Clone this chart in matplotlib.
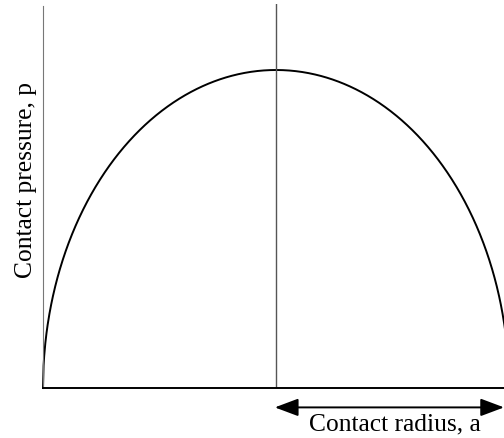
import matplotlib.pyplot as plt
import numpy as np

plt.rcParams["font.family"] = ["Liberation Serif", "DejaVu Serif"]

# normalised Hertz contact: p/p0 = sqrt(1 - (r/a)^2)
r = np.linspace(-1, 1, 801)
p = np.sqrt(np.clip(1 - r**2, 0, None))

x_label = "Contact radius, a"
y_label = "Contact pressure, p"

fig = plt.figure(figsize=(5.04, 4.39), dpi=100)
ax = fig.add_axes([43 / 504, 50 / 439, 461 / 504, 384 / 439])

ax.plot(r, p, color="black", lw=1.4, clip_on=False)
ax.axvline(0, color="#555555", lw=1.0)

ax.set_xlim(-1, 228 / 233)
ax.set_ylim(0, 384 / 318)
ax.set_xticks([])
ax.set_yticks([])
ax.spines["top"].set_visible(False)
ax.spines["right"].set_visible(False)
ax.spines["left"].set_color("#777777")
ax.spines["left"].set_bounds(0, 382 / 318)
ax.spines["bottom"].set_linewidth(1.4)

ax.annotate("", xy=(-0.005, -0.061), xytext=(228 / 233, -0.061),
            arrowprops=dict(arrowstyle="<|-|>,head_length=1.2,head_width=0.45",
                            color="black", lw=1.4,
                            mutation_scale=12, shrinkA=0, shrinkB=0),
            annotation_clip=False)
ax.text(0.51, -0.113, x_label, ha="center", va="center", fontsize=18.4)

ax.text(-0.036, 0.544, y_label, transform=ax.transAxes, rotation=90,
        ha="center", va="center", fontsize=18.4)

fig.savefig("out.png", dpi=100)
